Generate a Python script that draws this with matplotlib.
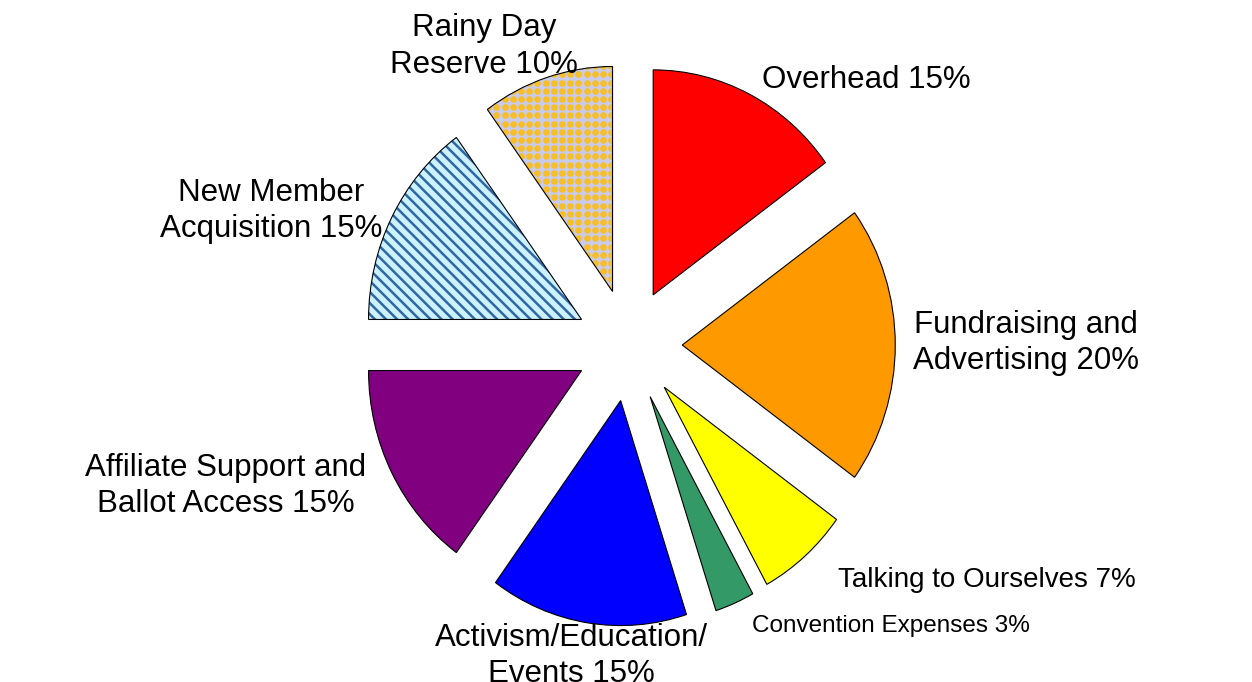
import numpy as np
import matplotlib.pyplot as plt
from matplotlib.patches import Wedge

plt.rcParams['font.family'] = ['Liberation Sans', 'DejaVu Sans']
plt.rcParams['hatch.linewidth'] = 1.8

# 预算分配（顺时针，从正上方开始）
categories = ["Overhead", "Fundraising and\nAdvertising", "Talking to Ourselves",
              "Convention Expenses", "Activism/Education/\nEvents",
              "Affiliate Support and\nBallot Access", "New Member\nAcquisition",
              "Rainy Day\nReserve"]
shares = [15, 20, 7, 3, 15, 15, 15, 10]
colors = ["#ff0000", "#ff9900", "#ffff00", "#339966", "#0000ff",
          "#800080", "#ccf2ff", "#c9cbed"]

# 标签位置（数据坐标）、对齐方式、字号
label_pos = [(0.624, 1.178), (1.864, 0.009), (0.981, -1.044), (0.577, -1.249),
             (-0.272, -1.383), (-1.892, -0.626), (-1.681, 0.596), (-0.681, 1.327)]
label_ha = ["left", "center", "left", "left", "center", "center", "center", "center"]
label_size = [22.5, 22.5, 20, 17.5, 22.5, 22.5, 22.5, 22.5]

# 像素比例：横向 213 px / 单位，纵向 225 px / 单位
sx, sy = 213.0, 225.0
cx, cy = 629.0, 345.0

fig = plt.figure(figsize=(12.52, 6.82), dpi=100)
ax = fig.add_axes([0, 0, 1, 1])

wedges, _ = ax.pie(shares, colors=colors, startangle=90, counterclock=False,
                   explode=[0.25] * len(shares), radius=1.0,
                   wedgeprops=dict(edgecolor="black", linewidth=0.8))

# 新会员：蓝色斜条纹
stripe = wedges[6]
stripe.set_hatch("\\\\\\")
stripe.set_edgecolor("#2e67a3")
stripe.set_linewidth(0)

# 储备金：淡紫底加橙色圆点
dots = wedges[7]
dots.set_linewidth(0)
gx, gy = np.meshgrid(np.arange(-1.2, 0.2, 8.2 / sx), np.arange(0.0, 1.4, 8.2 / sy))
sc = ax.scatter(gx.ravel(), gy.ravel(), s=23, color="#f7be25", linewidths=0,
                zorder=3)
sc.set_clip_path(dots)

# 重新描黑边
for w in (stripe, dots):
    ax.add_patch(Wedge(w.center, w.r, w.theta1, w.theta2, facecolor="none",
                       edgecolor="black", linewidth=0.8, zorder=4))

for name, v, (x, y), ha, fs in zip(categories, shares, label_pos, label_ha, label_size):
    ax.text(x, y, f"{name} {v}%", ha=ha, va="center", fontsize=fs,
            linespacing=1.27, zorder=5)

ax.set_xlim(-cx / sx, (1252 - cx) / sx)
ax.set_ylim(-(682 - cy) / sy, cy / sy)
ax.set_aspect("auto")
ax.axis("off")

fig.savefig("out.png", dpi=100)
